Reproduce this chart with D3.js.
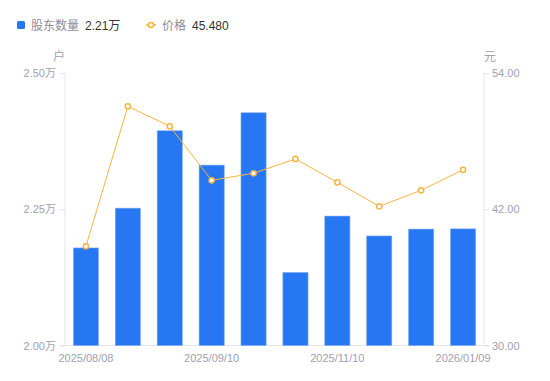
<!DOCTYPE html>
<html><head><meta charset="utf-8">
<script src="https://cdn.jsdelivr.net/npm/d3@7"></script>
<style>
body{margin:0;background:#fff;}
text{font-family:"Liberation Sans","Noto Sans CJK SC",sans-serif;}
</style></head>
<body><svg id="c" width="550" height="381"></svg>
<script>
const dates = ["2025/08/08","2025/08/20","2025/08/29","2025/09/10","2025/09/30","2025/10/20","2025/11/10","2025/11/28","2025/12/19","2026/01/09"];
const holders = [2.179, 2.252, 2.394, 2.331, 2.427, 2.134, 2.2375, 2.201, 2.2136, 2.214];
const prices = [38.74, 51.07, 49.31, 44.55, 45.17, 46.43, 44.37, 42.26, 43.67, 45.48];
const xLabels = ["2025/08/08","2025/09/10","2025/11/10","2026/01/09"];
const leftTicks = [2.00, 2.25, 2.50];
const rightTicks = [30, 42, 54];

const svg = d3.select("#c");
const L = 65, R = 484, T = 73, B = 345.5;
const x = d3.scaleBand().domain(dates).range([L, R]).paddingInner(0.4).paddingOuter(0.2);
const yL = d3.scaleLinear().domain([2.0, 2.5]).range([B, T]);
const yR = d3.scaleLinear().domain([30, 54]).range([B, T]);
const axisCol = "#e3e5ea", txtCol = "#9ea1b0";

// axes
const gl = svg.append("g").attr("transform", `translate(${L},0)`)
  .call(d3.axisLeft(yL).tickValues(leftTicks).tickSize(5).tickPadding(4).tickFormat(d => d3.format(".2f")(d) + "万"));
const gr = svg.append("g").attr("transform", `translate(${R},0)`)
  .call(d3.axisRight(yR).tickValues(rightTicks).tickSize(5).tickPadding(3).tickFormat(d3.format(".2f")));
[gl, gr].forEach(g => {
  g.select(".domain").remove();
  g.selectAll(".tick line").attr("stroke", axisCol);
  g.selectAll(".tick text").attr("fill", txtCol).style("font-size", "11px");
});
svg.append("line").attr("x1", L).attr("x2", L).attr("y1", T).attr("y2", B).attr("stroke", axisCol);
svg.append("line").attr("x1", R).attr("x2", R).attr("y1", T).attr("y2", B).attr("stroke", axisCol);
svg.append("line").attr("x1", L - 5).attr("x2", R + 5).attr("y1", B).attr("y2", B).attr("stroke", axisCol);

// bars
svg.append("g").selectAll("rect").data(holders).join("rect")
  .attr("x", (d, i) => x(dates[i]))
  .attr("width", x.bandwidth())
  .attr("y", d => yL(d))
  .attr("height", d => B - yL(d))
  .attr("fill", "#2777f2")
  .attr("stroke", "#7eaaf6").attr("stroke-width", 0.6);

// x labels
svg.append("g").selectAll("text").data(xLabels).join("text")
  .attr("x", d => x(d) + x.bandwidth() / 2)
  .attr("y", 362)
  .attr("text-anchor", "middle")
  .attr("fill", txtCol).style("font-size", "11px")
  .text(d => d);

// price line
const cx = (d, i) => x(dates[i]) + x.bandwidth() / 2;
svg.append("path").datum(prices)
  .attr("d", d3.line().x(cx).y(d => yR(d)))
  .attr("fill", "none").attr("stroke", "#fbb340").attr("stroke-width", 1);
svg.append("g").selectAll("circle").data(prices).join("circle")
  .attr("cx", cx).attr("cy", d => yR(d)).attr("r", 2.6)
  .attr("fill", "#fff").attr("stroke", "#fbb340").attr("stroke-width", 1.5);

// unit labels
svg.append("text").attr("x", 59).attr("y", 61).attr("text-anchor", "middle")
  .attr("fill", txtCol).style("font-size", "12px").text("户");
svg.append("text").attr("x", 490).attr("y", 61).attr("text-anchor", "middle")
  .attr("fill", txtCol).style("font-size", "12px").text("元");

// legend
svg.append("rect").attr("x", 17).attr("y", 21).attr("width", 8).attr("height", 8).attr("rx", 1.5).attr("fill", "#2777f2");
svg.append("text").attr("x", 31).attr("y", 29.5).attr("fill", "#8a8e9b").style("font-size", "12px").text("股东数量");
svg.append("text").attr("x", 85).attr("y", 29.5).attr("fill", "#333").style("font-size", "12px").text(d3.format(".2f")(holders[holders.length - 1]) + "万");
svg.append("line").attr("x1", 146).attr("x2", 156).attr("y1", 25).attr("y2", 25).attr("stroke", "#fbb340").attr("stroke-width", 1.5);
svg.append("circle").attr("cx", 151).attr("cy", 25).attr("r", 2.5).attr("fill", "#fff").attr("stroke", "#fbb340").attr("stroke-width", 1.5);
svg.append("text").attr("x", 162).attr("y", 29.5).attr("fill", "#8a8e9b").style("font-size", "12px").text("价格");
svg.append("text").attr("x", 192).attr("y", 29.5).attr("fill", "#333").style("font-size", "12px").text(d3.format(".3f")(prices[prices.length - 1]));
</script></body></html>
